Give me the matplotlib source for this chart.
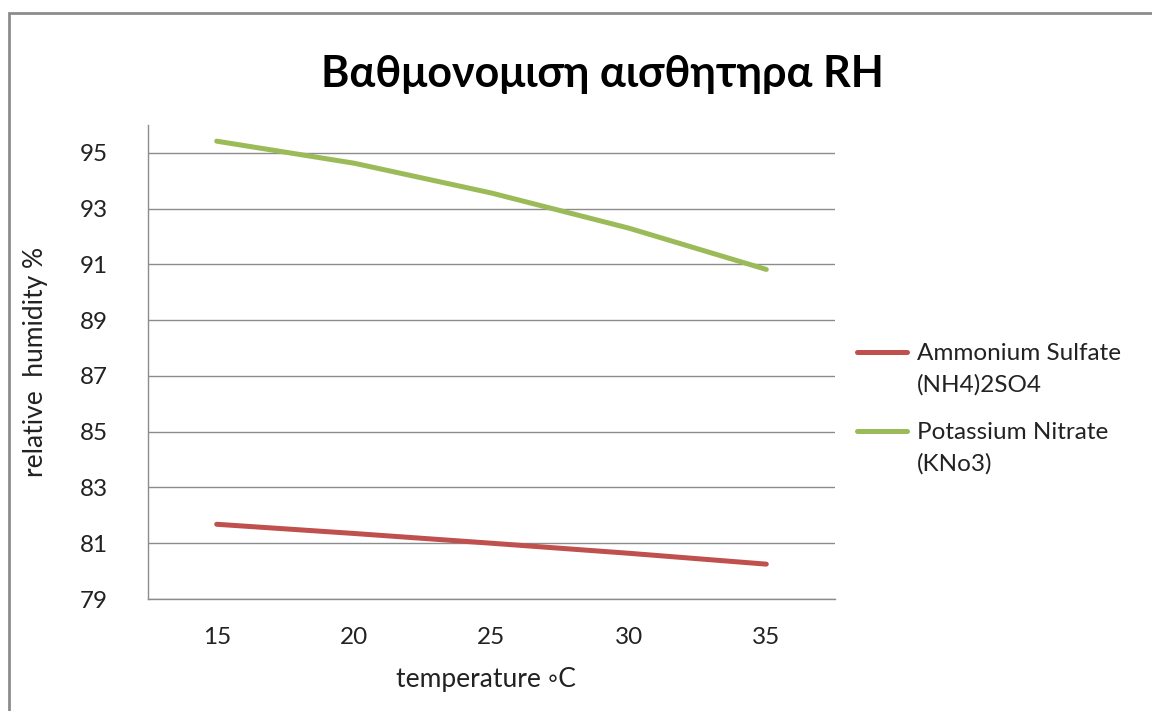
import matplotlib.pyplot as plt
import numpy as np
from matplotlib.lines import Line2D
from matplotlib.patches import Rectangle

plt.rcParams["font.family"] = ["Lato", "DejaVu Sans"]

temperatures = ["15", "20", "25", "30", "35"]
ammonium_sulfate = [81.68, 81.35, 81.0, 80.64, 80.25]
potassium_nitrate = [95.42, 94.63, 93.56, 92.3, 90.82]
series_names = ["Ammonium Sulfate\n(NH4)2SO4", "Potassium Nitrate\n(KNo3)"]
series_colors = ["#C0504D", "#9BBB59"]
y_ticks = [79, 81, 83, 85, 87, 89, 91, 93, 95]

W, H = 1152, 711
fig = plt.figure(figsize=(W / 100, H / 100), dpi=100)
ax = fig.add_axes([148 / W, 1 - 599 / H, (835 - 148) / W, (599 - 125) / H])

x = np.arange(len(temperatures))
for vals, col in zip([ammonium_sulfate, potassium_nitrate], series_colors):
    ax.plot(x, vals, color=col, lw=3.6, solid_capstyle="round")

ax.set_xlim(-0.5, len(temperatures) - 0.5)
ax.set_ylim(79, 96)
ax.set_xticks(x)
ax.set_xticklabels(temperatures)
ax.set_yticks(y_ticks)
ax.tick_params(length=0, labelsize=17.5, colors="#222222")
ax.tick_params(axis="x", pad=20)
ax.tick_params(axis="y", pad=29)
ax.yaxis.grid(True, color="#8c8c8c", lw=1)
ax.set_axisbelow(True)
for side in ["top", "right"]:
    ax.spines[side].set_visible(False)
for side in ["left", "bottom"]:
    ax.spines[side].set_color("#8c8c8c")
    ax.spines[side].set_linewidth(1)

ax.set_xlabel("temperature \u25e6C", fontsize=19, color="#222222")
ax.set_ylabel("relative  humidity %", fontsize=19, color="#222222")
ax.xaxis.set_label_coords(0.492, -0.143)
ax.yaxis.set_label_coords(-0.145, 0.5)

fig.text(602 / W, 1 - 74 / H, "Βαθμονομιση αισθητηρα RH", ha="center", va="center",
         fontsize=31, fontweight="bold", color="black")

# legend, drawn by hand so the line sits on the first text row
legend_rows = [352, 431]
for name, col, yp in zip(series_names, series_colors, legend_rows):
    yf = 1 - yp / H
    fig.add_artist(Line2D([857 / W, 907 / W], [yf, yf], color=col, lw=3.6,
                          solid_capstyle="round", transform=fig.transFigure))
    fig.text(917 / W, yf + 9 / H, name, ha="left", va="top", fontsize=17.5,
             color="#222222", linespacing=1.55)

fig.add_artist(Rectangle((9 / W, -0.1), 1.2, 1 - 13 / H + 0.1, transform=fig.transFigure,
                         fill=False, edgecolor="#8c8c8c", lw=2))

fig.savefig("out.png", dpi=100)
